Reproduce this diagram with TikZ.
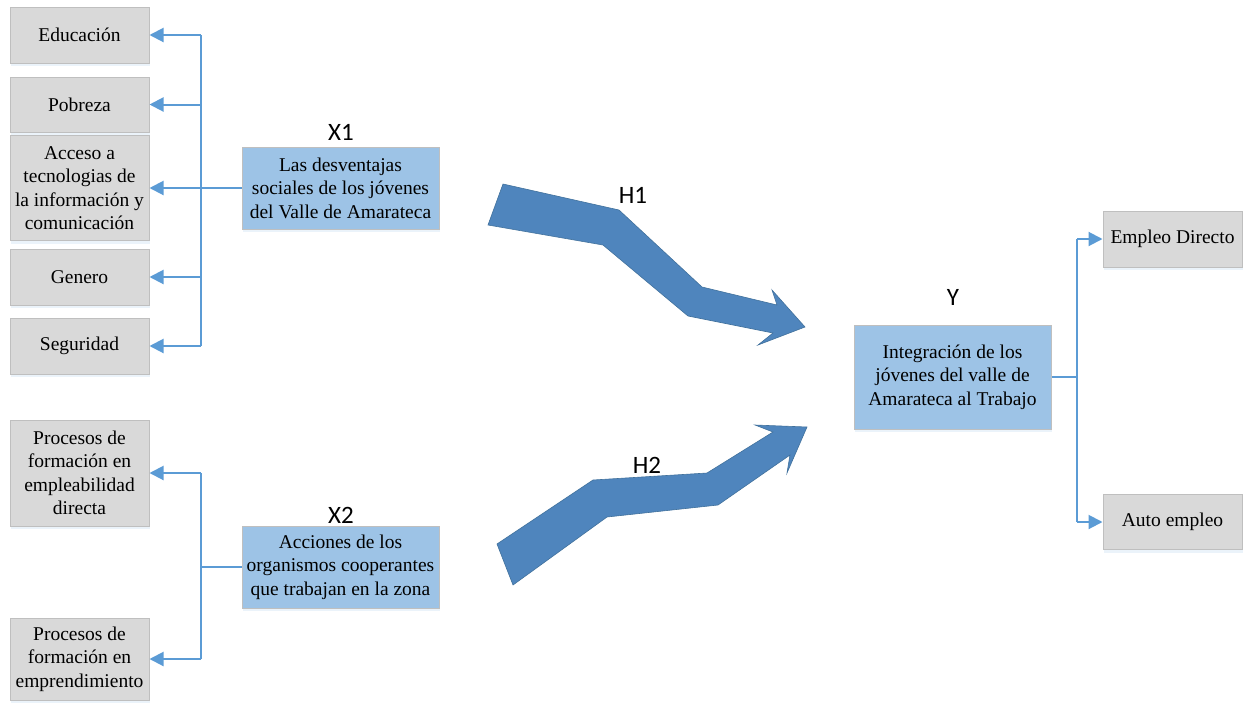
\documentclass[tikz,border=0pt]{standalone}
\usepackage{fontspec}
\setmainfont{Liberation Serif}
\newfontfamily\lblfont{Carlito}
\usetikzlibrary{arrows.meta,shadows}

\definecolor{boxgray}{RGB}{217,217,217}
\definecolor{boxline}{RGB}{191,191,191}
\definecolor{varblue}{RGB}{157,195,230}
\definecolor{linkblue}{RGB}{91,155,213}
\definecolor{arrowblue}{RGB}{79,133,189}
\definecolor{arrowline}{RGB}{65,113,156}

\begin{document}
\begin{tikzpicture}[x=1pt,y=-1pt,
  box/.style={draw=boxline,line width=1pt,fill=boxgray,inner sep=0pt,align=center,
    minimum width=139pt,font=\fontsize{19.5}{23.5}\selectfont,
    drop shadow={opacity=0.12,shadow xshift=1pt,shadow yshift=-3pt,fill=linkblue}},
  varbox/.style={box,fill=varblue,minimum width=197pt},
  lbl/.style={font=\lblfont\fontsize{25}{25}\selectfont,inner sep=0pt},
  link/.style={draw=linkblue,line width=2pt},
  tip/.style={link,-{Triangle[length=14pt,width=14pt]}},
  bigarrow/.style={fill=arrowblue,draw=arrowline,line width=0.6pt,line join=miter}]

\useasboundingbox (0,0) rectangle (1245,702);

% left side, X1
\node[box,minimum height=56pt] (edu) at (79.5,35) {Educación};
\node[box,minimum height=55pt] (pobreza) at (79.5,104.5) {Pobreza};
\node[box,minimum height=105pt] (acceso) at (79.5,188) {Acceso a\\tecnologias de\\la información y\\comunicación};
\node[box,minimum height=56pt] (genero) at (79.5,277) {Genero};
\node[box,minimum height=56pt] (seguridad) at (79.5,346) {Seguridad};

\node[varbox,minimum height=82pt] (x1) at (340.5,188) {Las desventajas\\sociales de los jóvenes\\del Valle de Amarateca};
\node[lbl] (x1lbl) at (341,132) {X1};

\coordinate (t1) at (201,188);
\draw[link] (x1.west) -- (t1);
\draw[link] (t1 |- edu.east) -- (t1 |- seguridad.east);
\foreach \n in {edu,pobreza,acceso,genero,seguridad}
  \draw[tip] (t1 |- \n.east) -- (\n.east);

% left side, X2
\node[box,minimum height=106pt] (emplea) at (79.5,473) {Procesos de\\formación en\\empleabilidad\\directa};
\node[box,minimum height=82pt] (empre) at (79.5,659) {Procesos de\\formación en\\emprendimiento};

\node[varbox,minimum height=82pt] (x2) at (340.5,567) {Acciones de los\\organismos cooperantes\\que trabajan en la zona};
\node[lbl] (x2lbl) at (341,515) {X2};

\coordinate (t2) at (201,567);
\draw[link] (x2.west) -- (t2);
\draw[link] (t2 |- emplea.east) -- (t2 |- empre.east);
\foreach \n in {emplea,empre}
  \draw[tip] (t2 |- \n.east) -- (\n.east);

% right side, Y
\node[varbox,minimum height=104pt] (y) at (952.5,377) {Integración de los\\jóvenes del valle de\\Amarateca al Trabajo};
\node[lbl] (ylbl) at (953,297) {Y};

\node[box,minimum height=56pt] (directo) at (1172.5,239) {Empleo Directo};
\node[box,minimum height=55pt] (auto) at (1172.5,522) {Auto empleo};

\coordinate (t3) at (1077,377);
\draw[link] (y.east) -- (t3);
\draw[link] (t3 |- directo.west) -- (t3 |- auto.west);
\foreach \n in {directo,auto}
  \draw[tip] (t3 |- \n.west) -- (\n.west);

% hypotheses
\draw[bigarrow] (503,184) -- (619,210) -- (702,287) -- (777,305) -- (772,290) -- (805,327)
  -- (758,345) -- (773,333) -- (688,316) -- (603,245) -- (488,225) -- cycle;
\node[lbl] (h1) at (633,195) {H1};

\draw[bigarrow] (513,585) -- (497,544) -- (593,480) -- (707,473) -- (773,432) -- (755,425)
  -- (807,427) -- (787,473) -- (790,455) -- (718,505) -- (607,517) -- cycle;
\node[lbl] (h2) at (647,465) {H2};

\end{tikzpicture}
\end{document}
